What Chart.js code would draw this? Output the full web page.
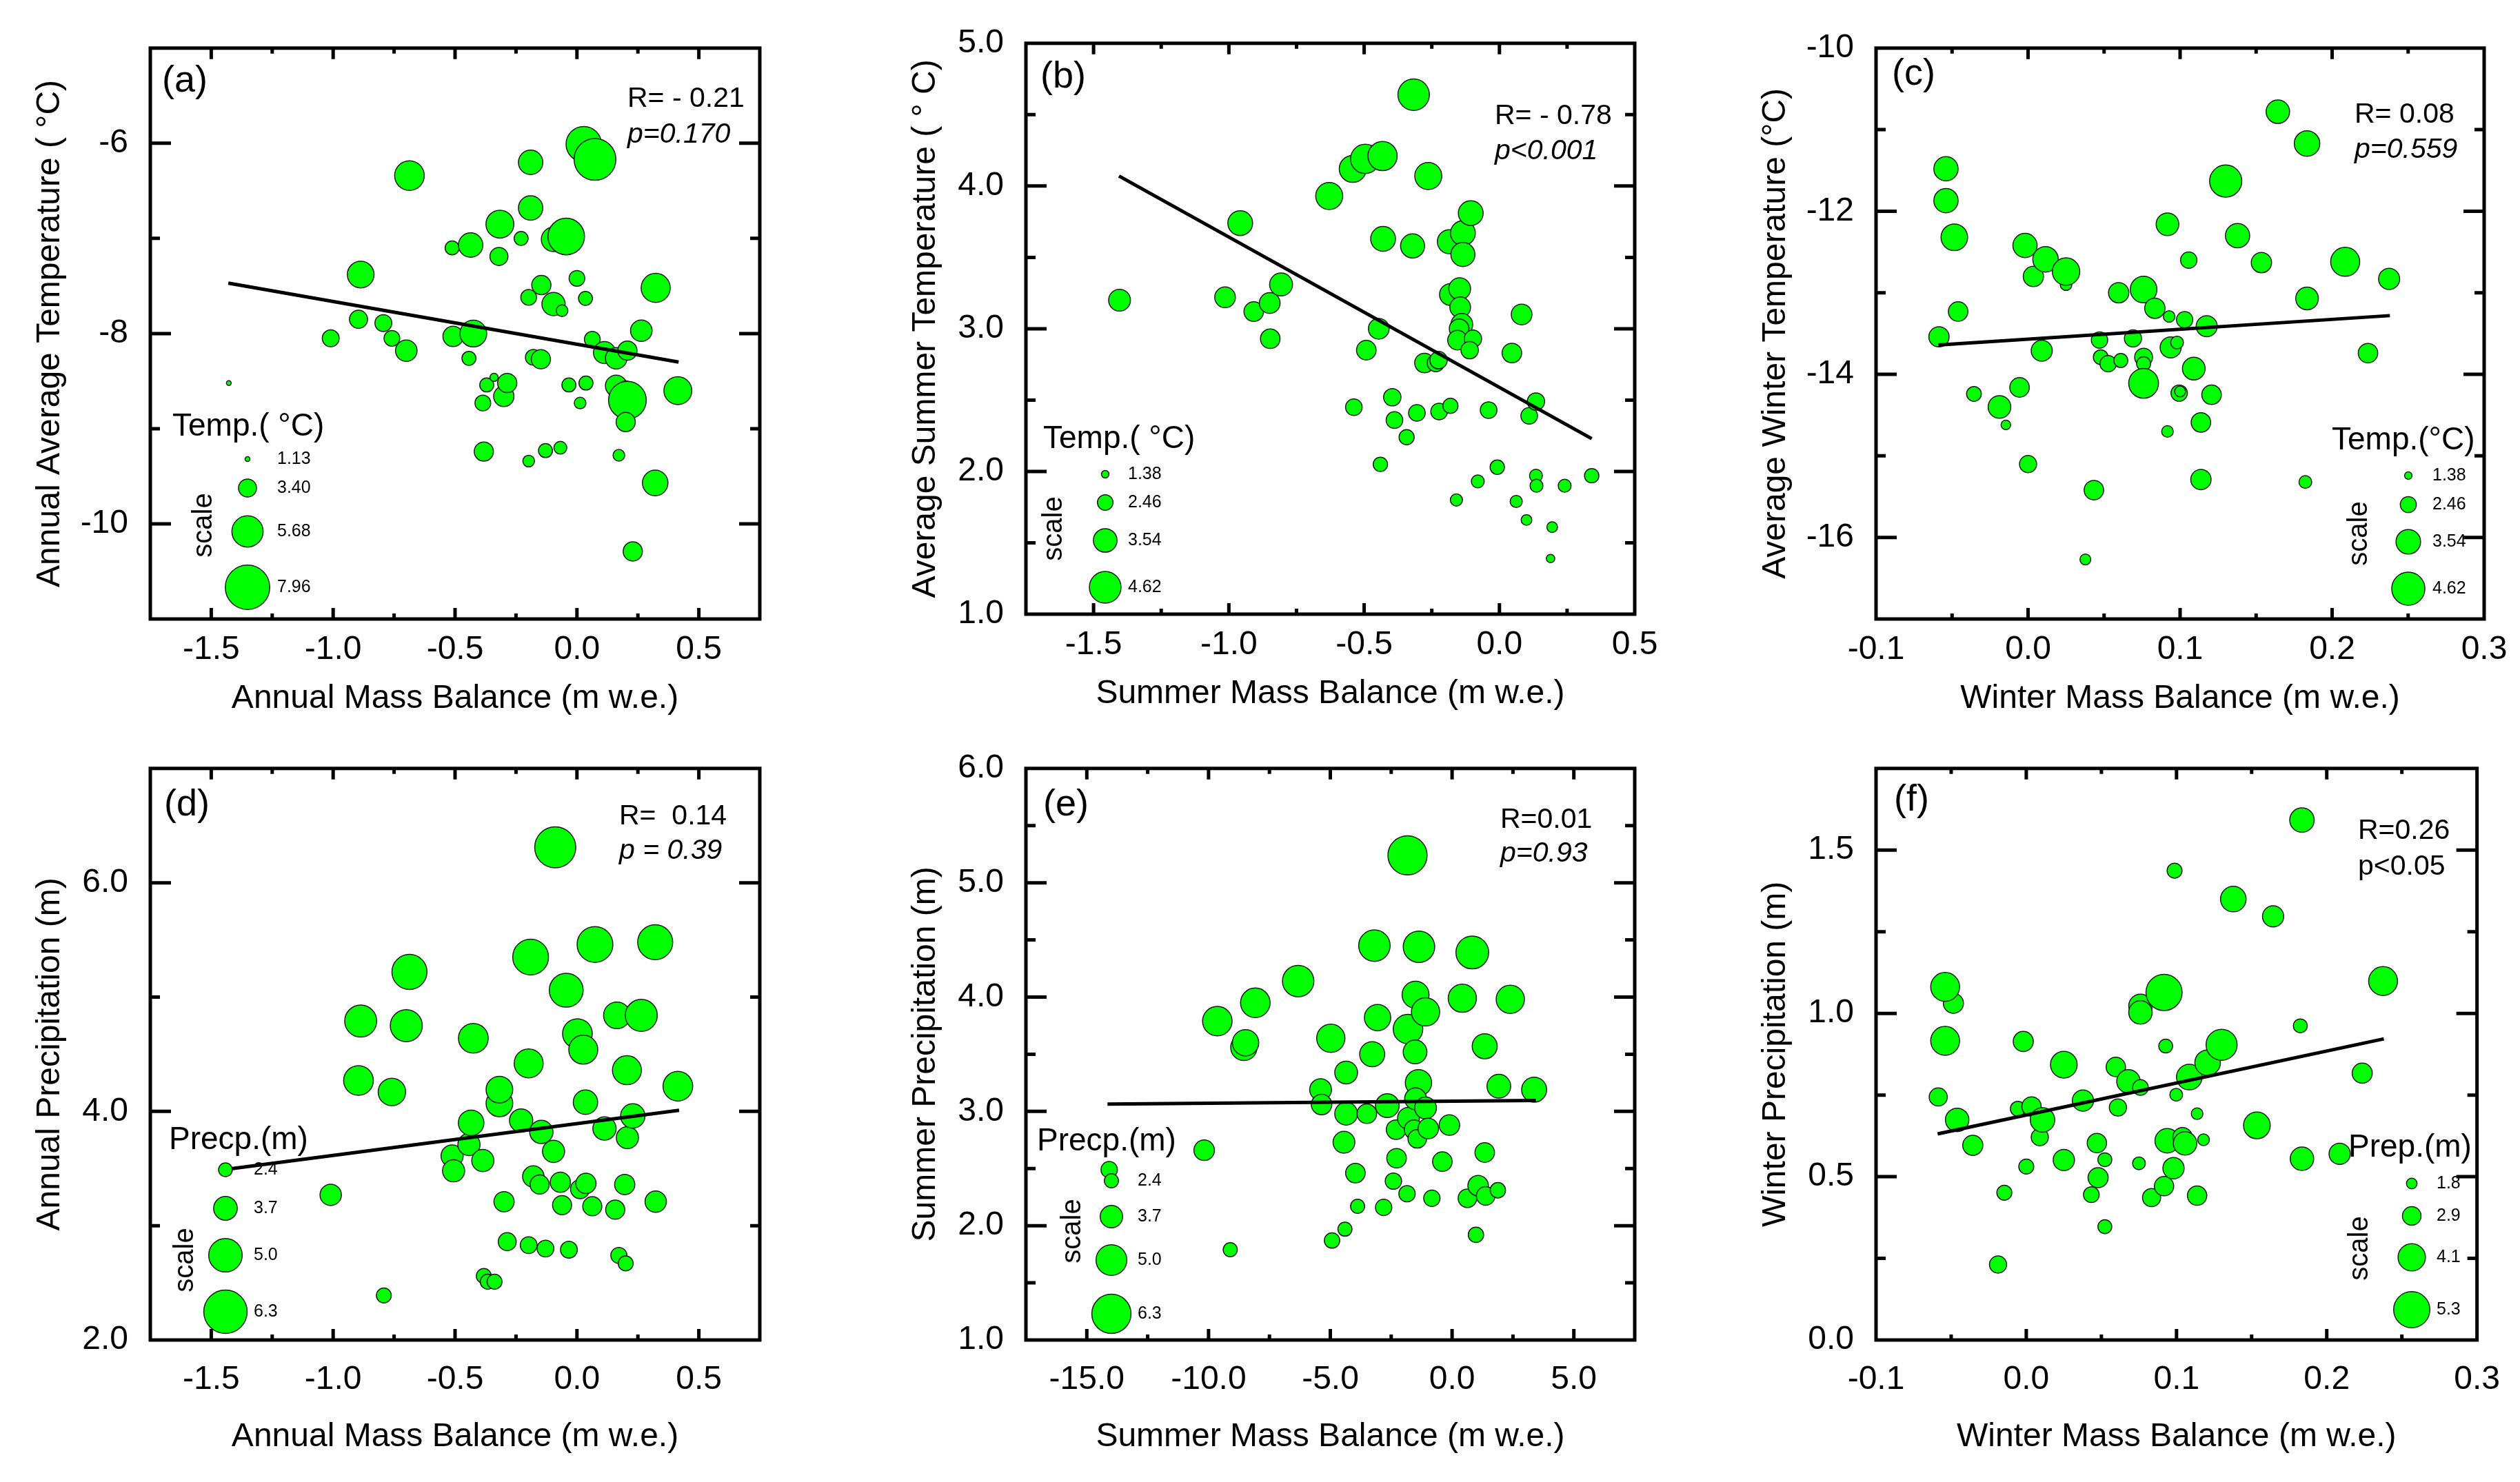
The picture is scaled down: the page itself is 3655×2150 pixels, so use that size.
<!DOCTYPE html>
<html>
<head>
<meta charset="utf-8">
<script src="https://cdn.jsdelivr.net/npm/chart.js@4.4.1/dist/chart.umd.min.js"></script>
<style>
  html, body { margin: 0; padding: 0; background: #ffffff; }
  body { width: 3655px; height: 2150px; position: relative; overflow: hidden; }
  canvas { position: absolute; }
</style>
</head>
<body>
<script>
// ===================== DATA =====================
// (a) Annual mass balance vs annual average temperature; size = Temp.(°C) scale
const aX = [-1.428, -1.01, -0.887, -0.896, -0.794, -0.759, -0.70, -0.687, -0.512, -0.508, -0.436, -0.425, -0.443, -0.382, -0.386, -0.37, -0.34, -0.316, -0.32, -0.30, -0.286, -0.229, -0.19, -0.19, -0.198, -0.179, -0.148, -0.198, -0.146, -0.129, -0.096, -0.096, -0.044, -0.061, -0.068, -0.033, 0.0, 0.013, 0.028, 0.074, 0.035, 0.037, 0.063, 0.113, 0.161, 0.207, 0.161, 0.20, 0.207, 0.20, 0.172, 0.229, 0.264, 0.323, 0.321, 0.414];
const aY = [-8.52, -8.05, -7.38, -7.85, -7.89, -8.05, -8.18, -6.34, -7.10, -8.03, -7.07, -8.0, -8.26, -9.24, -8.73, -8.54, -8.46, -6.85, -7.19, -8.66, -8.52, -7.0, -6.68, -6.2, -7.62, -8.25, -8.27, -9.34, -7.49, -9.23, -7.69, -7.01, -6.98, -7.76, -9.20, -8.54, -7.42, -8.73, -6.01, -6.17, -7.63, -8.52, -8.06, -8.20, -8.26, -8.18, -8.55, -8.58, -8.70, -8.93, -9.28, -10.29, -7.97, -7.52, -9.57, -8.60];
const aS = [1.1, 3.2, 4.9, 3.4, 3.2, 3.0, 4.0, 5.4, 2.7, 3.8, 4.5, 4.9, 2.7, 3.6, 3.0, 2.7, 1.7, 5.1, 3.4, 3.8, 3.6, 2.7, 4.5, 4.5, 3.0, 3.0, 3.6, 2.3, 3.6, 2.7, 4.3, 4.5, 6.6, 2.3, 2.5, 2.7, 3.0, 2.3, 6.4, 7.5, 2.7, 2.7, 3.0, 4.1, 4.0, 3.6, 4.0, 3.0, 6.8, 3.6, 2.3, 3.6, 4.0, 5.3, 4.7, 5.1];
const aFitX = [-1.43, 0.417];
const aFitY = [-7.47, -8.30];

// (b) Summer mass balance vs average summer temperature
const bX = [-1.404, -1.014, -0.958, -0.908, -0.849, -0.847, -0.807, -0.629, -0.542, -0.496, -0.432, -0.43, -0.321, -0.317, -0.263, -0.446, -0.492, -0.538, -0.44, -0.396, -0.388, -0.343, -0.305, -0.277, -0.235, -0.225, -0.223, -0.181, -0.185, -0.135, -0.135, -0.106, -0.181, -0.147, -0.145, -0.139, -0.149, -0.155, -0.098, -0.11, -0.159, -0.08, -0.04, -0.008, 0.046, 0.062, 0.082, 0.10, 0.11, 0.135, 0.135, 0.137, 0.195, 0.189, 0.241, 0.341];
const bY = [3.20, 3.22, 3.74, 3.12, 3.18, 2.93, 3.31, 3.93, 4.12, 4.19, 4.21, 3.63, 3.58, 4.64, 4.07, 3.0, 2.85, 2.45, 2.05, 2.52, 2.36, 2.24, 2.41, 2.76, 2.76, 2.78, 2.42, 2.46, 3.61, 3.67, 3.52, 3.81, 3.24, 3.28, 3.15, 3.03, 3.0, 2.92, 2.93, 2.85, 1.80, 1.93, 2.43, 2.03, 2.83, 1.79, 3.10, 1.66, 2.39, 2.49, 1.97, 1.90, 1.61, 1.39, 1.90, 1.97];
const bS = [3.3, 3.15, 3.7, 3.0, 3.15, 3.0, 3.45, 4.0, 4.0, 4.3, 4.3, 3.7, 3.6, 4.6, 4.0, 3.15, 3.0, 2.6, 2.3, 2.7, 2.6, 2.4, 2.6, 3.0, 2.7, 2.7, 2.6, 2.4, 3.6, 3.7, 3.6, 3.7, 3.3, 3.3, 3.15, 3.3, 3.0, 3.0, 2.7, 2.7, 2.0, 2.1, 2.6, 2.3, 3.0, 2.0, 3.15, 1.8, 2.6, 2.7, 2.1, 2.1, 1.8, 1.5, 2.1, 2.3];
const bFitX = [-1.406, 0.341];
const bFitY = [4.07, 2.23];

// (c) Winter mass balance vs average winter temperature
const cX = [-0.0586, -0.054, -0.054, -0.0485, -0.046, -0.0356, -0.0188, -0.0146, -0.0056, -0.002, 0.0035, 0.0, 0.0115, 0.009, 0.025, 0.025, 0.0377, 0.0433, 0.047, 0.0478, 0.0527, 0.0596, 0.061, 0.069, 0.076, 0.076, 0.076, 0.076, 0.0834, 0.0917, 0.0928, 0.0917, 0.0938, 0.098, 0.0994, 0.1, 0.103, 0.1057, 0.109, 0.1137, 0.1137, 0.1175, 0.1207, 0.130, 0.1378, 0.1535, 0.1643, 0.1835, 0.1835, 0.1824, 0.2086, 0.2236, 0.2375];
const cY = [-13.54, -11.48, -11.87, -12.32, -13.23, -14.24, -14.40, -14.62, -14.16, -12.42, -12.80, -15.10, -12.59, -13.71, -12.90, -12.74, -16.27, -15.42, -13.58, -13.79, -13.87, -13.0, -13.83, -13.56, -12.96, -13.79, -13.87, -14.11, -13.19, -12.16, -13.29, -14.70, -13.67, -13.61, -14.23, -14.21, -13.33, -12.60, -13.93, -14.59, -15.29, -13.41, -14.25, -11.63, -12.30, -12.63, -10.78, -11.17, -13.07, -15.32, -12.62, -13.74, -12.83];
const cS = [3.0, 3.5, 3.5, 3.8, 2.9, 2.3, 3.3, 1.65, 2.9, 3.5, 3.0, 2.6, 3.66, 3.1, 1.9, 3.9, 1.8, 2.9, 2.5, 2.3, 2.5, 3.0, 2.2, 2.6, 3.8, 2.7, 2.2, 4.2, 3.0, 3.3, 1.9, 1.9, 3.1, 2.05, 2.5, 1.8, 2.5, 2.5, 3.3, 2.9, 3.0, 3.1, 2.9, 4.5, 3.5, 3.0, 3.4, 3.66, 3.3, 2.05, 4.1, 2.9, 3.1];
const cFitX = [-0.059, 0.238];
const cFitY = [-13.64, -13.28];

// (d) Annual mass balance vs annual precipitation; size = Precp.(m) scale
const dX = [-1.01, -0.896, -0.887, -0.792, -0.759, -0.70, -0.687, -0.512, -0.506, -0.443, -0.434, -0.425, -0.386, -0.382, -0.366, -0.338, -0.318, -0.318, -0.299, -0.286, -0.229, -0.198, -0.19, -0.198, -0.179, -0.153, -0.146, -0.129, -0.096, -0.089, -0.068, -0.061, -0.044, -0.033, 0.002, 0.013, 0.026, 0.035, 0.037, 0.063, 0.074, 0.113, 0.157, 0.164, 0.172, 0.20, 0.196, 0.205, 0.207, 0.229, 0.264, 0.321, 0.323, 0.414];
const dY = [3.27, 4.27, 4.79, 2.39, 4.17, 4.75, 5.22, 3.61, 3.48, 3.71, 3.90, 4.64, 3.57, 2.56, 2.51, 2.51, 4.07, 4.19, 3.21, 2.86, 3.92, 4.42, 5.35, 2.83, 3.43, 3.36, 3.82, 2.80, 3.65, 6.31, 3.38, 3.18, 5.06, 2.79, 4.68, 3.32, 4.54, 4.08, 3.37, 3.17, 5.46, 3.85, 3.14, 4.84, 2.74, 2.67, 3.36, 4.36, 3.77, 3.96, 4.84, 5.48, 3.21, 4.22];
const dS = [3.4, 4.5, 4.8, 2.55, 4.2, 4.8, 5.2, 3.5, 3.5, 3.5, 3.95, 4.5, 3.5, 2.55, 2.55, 2.55, 4.1, 4.1, 3.25, 2.95, 3.65, 4.4, 5.3, 2.8, 3.4, 3.1, 3.65, 2.8, 3.5, 6.0, 3.25, 3.1, 5.05, 2.8, 4.5, 3.1, 4.4, 3.8, 3.25, 3.1, 5.3, 3.65, 3.1, 4.1, 2.7, 2.55, 3.25, 4.4, 3.5, 3.8, 4.8, 5.2, 3.4, 4.5];
const dFitX = [-1.413, 0.419];
const dFitY = [3.50, 4.01];

// (e) Summer mass balance vs summer precipitation
const eX = [-14.08, -10.18, -9.64, -9.11, -8.55, -8.48, -8.08, -6.32, -5.40, -5.36, -4.98, -4.93, -4.44, -4.35, -4.35, -4.40, -3.97, -3.88, -3.50, -3.28, -3.19, -3.06, -2.81, -2.66, -2.41, -2.30, -2.28, -1.85, -1.83, -1.81, -1.79, -1.56, -1.50, -1.52, -1.43, -1.38, -1.36, -1.50, -1.09, -1.09, -0.98, -0.83, -0.40, -0.11, 0.42, 0.63, 0.83, 0.98, 1.07, 1.34, 1.34, 1.38, 1.88, 1.92, 2.39, 3.37];
const eY = [2.49, 2.66, 3.79, 1.79, 3.56, 3.60, 3.95, 4.14, 3.19, 3.06, 3.64, 1.87, 2.73, 3.34, 2.98, 1.97, 2.46, 2.17, 2.98, 3.50, 4.45, 3.82, 2.16, 3.05, 2.39, 2.84, 2.59, 2.28, 5.24, 3.72, 2.94, 2.84, 4.02, 3.52, 2.76, 3.25, 4.44, 3.11, 3.87, 3.03, 2.85, 2.24, 2.56, 2.88, 3.99, 2.24, 4.39, 1.92, 2.35, 3.57, 2.64, 2.26, 2.31, 3.22, 3.98, 3.19];
const eS = [2.75, 3.4, 4.8, 2.4, 4.3, 4.3, 4.8, 5.1, 3.6, 3.4, 4.6, 2.6, 3.6, 3.75, 3.75, 2.4, 3.25, 2.4, 3.25, 4.1, 5.1, 4.3, 2.75, 3.9, 2.75, 3.25, 3.25, 2.75, 6.3, 4.8, 3.6, 3.25, 4.4, 3.9, 3.1, 4.3, 5.1, 3.6, 4.6, 3.6, 3.4, 2.75, 3.25, 3.4, 4.6, 3.1, 5.3, 2.6, 3.4, 4.1, 3.25, 3.1, 2.6, 3.9, 4.6, 4.1];
const eFitX = [-14.15, 3.44];
const eFitY = [3.063, 3.096];

// (f) Winter mass balance vs winter precipitation; size = Prep.(m) scale
const fX = [-0.0586, -0.0485, -0.054, -0.054, -0.046, -0.0356, -0.0188, -0.0146, -0.0056, -0.002, 0.0, 0.0035, 0.009, 0.0108, 0.025, 0.025, 0.0377, 0.0433, 0.047, 0.0478, 0.0523, 0.0523, 0.0596, 0.061, 0.068, 0.076, 0.076, 0.076, 0.075, 0.0834, 0.0917, 0.0928, 0.0917, 0.0938, 0.0987, 0.098, 0.0998, 0.104, 0.1057, 0.1085, 0.1137, 0.1137, 0.118, 0.1207, 0.130, 0.1378, 0.1535, 0.1643, 0.1835, 0.1824, 0.1835, 0.2086, 0.2236, 0.2375];
const fY = [0.744, 1.031, 1.081, 0.916, 0.674, 0.596, 0.231, 0.451, 0.708, 0.914, 0.531, 0.715, 0.621, 0.674, 0.843, 0.551, 0.733, 0.445, 0.603, 0.497, 0.552, 0.347, 0.836, 0.712, 0.792, 1.023, 1.003, 0.773, 0.541, 0.436, 1.064, 0.90, 0.471, 0.610, 1.437, 0.526, 0.751, 0.621, 0.602, 0.805, 0.693, 0.442, 0.613, 0.849, 0.904, 1.350, 0.657, 1.297, 1.592, 0.962, 0.555, 0.570, 0.817, 1.099];
const fS = [2.83, 3.1, 4.3, 4.3, 3.56, 3.1, 2.7, 2.4, 2.4, 3.1, 2.4, 3.0, 2.7, 3.7, 4.0, 3.26, 3.26, 2.5, 3.0, 3.1, 2.25, 2.25, 3.0, 2.7, 3.56, 3.56, 3.56, 2.5, 2.1, 2.83, 5.3, 2.25, 3.0, 3.7, 2.4, 3.26, 2.1, 3.0, 3.56, 3.85, 1.95, 3.0, 1.95, 3.85, 4.6, 3.85, 4.0, 3.26, 3.7, 2.25, 3.56, 3.26, 3.1, 4.3];
const fFitX = [-0.059, 0.238];
const fFitY = [0.631, 0.922];

// Tick labels
const annualXLabels = ["-1.5", "-1.0", "-0.5", "0.0", "0.5"];
const summerXLabels = ["-1.5", "-1.0", "-0.5", "0.0", "0.5"];
const winterXLabels = ["-0.1", "0.0", "0.1", "0.2", "0.3"];
const summerPXLabels = ["-15.0", "-10.0", "-5.0", "0.0", "5.0"];
const aYLabels = ["-10", "-8", "-6"];
const bYLabels = ["1.0", "2.0", "3.0", "4.0", "5.0"];
const cYLabels = ["-16", "-14", "-12", "-10"];
const dYLabels = ["2.0", "4.0", "6.0"];
const eYLabels = ["1.0", "2.0", "3.0", "4.0", "5.0", "6.0"];
const fYLabels = ["0.0", "0.5", "1.0", "1.5"];

// Size-legend labels
const aLegend = ["1.13", "3.40", "5.68", "7.96"];
const bLegend = ["1.38", "2.46", "3.54", "4.62"];
const cLegend = ["1.38", "2.46", "3.54", "4.62"];
const dLegend = ["2.4", "3.7", "5.0", "6.3"];
const eLegend = ["2.4", "3.7", "5.0", "6.3"];
const fLegend = ["1.8", "2.9", "4.1", "5.3"];

// ===================== PANEL DEFINITIONS =====================
const PANELS = [
  { key: 'a', x: aX, y: aY, s: aS, fitX: aFitX, fitY: aFitY,
    xLabels: annualXLabels, yLabels: aYLabels, legend: aLegend,
    xr: [-1.75, 0.75, 0.5, 0.25], yr: [-11, -5, 2, 1],
    xTitle: 'Annual Mass Balance (m w.e.)', yTitle: 'Annual Average Temperature ( °C)',
    tag: '(a)', rText: 'R= - 0.21', pText: 'p=0.170', pItalic: true, legTitle: 'Temp.( °C)' },
  { key: 'b', x: bX, y: bY, s: bS, fitX: bFitX, fitY: bFitY,
    xLabels: summerXLabels, yLabels: bYLabels, legend: bLegend,
    xr: [-1.75, 0.5, 0.5, 0.25], yr: [1, 5, 1, 0.5],
    xTitle: 'Summer Mass Balance (m w.e.)', yTitle: 'Average Summer Temperature ( ° C)',
    tag: '(b)', rText: 'R= - 0.78', pText: 'p<0.001', pItalic: true, legTitle: 'Temp.( °C)' },
  { key: 'c', x: cX, y: cY, s: cS, fitX: cFitX, fitY: cFitY,
    xLabels: winterXLabels, yLabels: cYLabels, legend: cLegend,
    xr: [-0.1, 0.3, 0.1, 0.05], yr: [-17, -10, 2, 1],
    xTitle: 'Winter Mass Balance (m w.e.)', yTitle: 'Average Winter Temperature (°C)',
    tag: '(c)', rText: 'R= 0.08', pText: 'p=0.559', pItalic: true, legTitle: 'Temp.(°C)' },
  { key: 'd', x: dX, y: dY, s: dS, fitX: dFitX, fitY: dFitY,
    xLabels: annualXLabels, yLabels: dYLabels, legend: dLegend,
    xr: [-1.75, 0.75, 0.5, 0.25], yr: [2, 7, 2, 1],
    xTitle: 'Annual Mass Balance (m w.e.)', yTitle: 'Annual Precipitation (m)',
    tag: '(d)', rText: 'R=  0.14', pText: 'p = 0.39', pItalic: true, legTitle: 'Precp.(m)' },
  { key: 'e', x: eX, y: eY, s: eS, fitX: eFitX, fitY: eFitY,
    xLabels: summerPXLabels, yLabels: eYLabels, legend: eLegend,
    xr: [-17.5, 7.5, 5, 2.5], yr: [1, 6, 1, 0.5],
    xTitle: 'Summer Mass Balance (m w.e.)', yTitle: 'Summer Precipitation (m)',
    tag: '(e)', rText: 'R=0.01', pText: 'p=0.93', pItalic: true, legTitle: 'Precp.(m)' },
  { key: 'f', x: fX, y: fY, s: fS, fitX: fFitX, fitY: fFitY,
    xLabels: winterXLabels, yLabels: fYLabels, legend: fLegend,
    xr: [-0.1, 0.3, 0.1, 0.05], yr: [0, 1.75, 0.5, 0.25],
    xTitle: 'Winter Mass Balance (m w.e.)', yTitle: 'Winter Precipitation (m)',
    tag: '(f)', rText: 'R=0.26', pText: 'p<0.05', pItalic: false, legTitle: 'Prep.(m)' }
];

// ===================== LAYOUT (page pixels) =====================
const LAYOUT = {
  a: { rect: [218, 64, 1102, 898], row: 1, tag: [235, 118], r: [910, 144], p: [910, 196],
       leg: { title: [250, 619], cx: 359, rows: [666, 708, 771, 852], vx: 402, scale: [296, 762] }, size: [4.2, -1.2] },
  b: { rect: [1488, 57, 2371, 891], row: 1, tag: [1509, 112], r: [2168, 169], p: [2168, 220],
       leg: { title: [1513, 637], cx: 1603, rows: [688, 729, 784, 852], vx: 1636, scale: [1529, 767] }, size: [5.4, -2.0] },
  c: { rect: [2721, 64, 3603, 898], row: 1, tag: [2744, 108], r: [3415, 167], p: [3415, 218],
       leg: { title: [3382, 639], cx: 3493, rows: [690, 732, 786, 854], vx: 3528, scale: [3422, 774] }, size: [5.74, -2.5] },
  d: { rect: [218, 1109, 1102, 1944], row: 2, tag: [238, 1168], r: [898, 1185], p: [898, 1235],
       leg: { title: [245, 1654], cx: 327, rows: [1697, 1753, 1821, 1903], vx: 368, scale: [269, 1828] }, size: [5.5, -3.2] },
  e: { rect: [1488, 1109, 2371, 1944], row: 2, tag: [1513, 1168], r: [2176, 1190], p: [2176, 1239],
       leg: { title: [1504, 1656], cx: 1612, rows: [1713, 1765, 1828, 1906], vx: 1650, scale: [1556, 1786] }, size: [4.67, -1.0] },
  f: { rect: [2721, 1109, 3603, 1944], row: 2, tag: [2747, 1161], r: [3420, 1206], p: [3420, 1258],
       leg: { title: [3406, 1665], cx: 3498, rows: [1717, 1764, 1824, 1900], vx: 3534, scale: [3423, 1811] }, size: [5.31, -1.9] }
};

const FONT = '"Liberation Sans", Arial, Helvetica, sans-serif';
const GREEN = '#00ff00';
const EDGE = '#1a1a1a';
Chart.defaults.font.family = FONT;
Chart.defaults.color = '#000';

const PAD_L = 218, PAD_T = 55, PAD_R = 52, PAD_B = 190;

function drawDecor(chart, P, L, ox, oy, rad) {
  const ctx = chart.ctx, ca = chart.chartArea;
  const xs = chart.scales.x, ys = chart.scales.y;
  ctx.save();

  // size legend
  const lg = L.leg;
  P.legend.forEach((lab, i) => {
    const cy = lg.rows[i] - oy;
    ctx.beginPath();
    ctx.arc(lg.cx - ox, cy, rad(Number(lab)), 0, Math.PI * 2);
    ctx.fillStyle = GREEN; ctx.fill();
    ctx.lineWidth = 1.5; ctx.strokeStyle = EDGE; ctx.stroke();
    ctx.fillStyle = '#000';
    ctx.font = `25px ${FONT}`;
    ctx.textAlign = 'left'; ctx.textBaseline = 'middle';
    ctx.fillText(lab, lg.vx - ox, cy);
  });
  ctx.fillStyle = '#000';
  ctx.font = `46px ${FONT}`;
  ctx.textAlign = 'left'; ctx.textBaseline = 'middle';
  ctx.fillText(P.legTitle, lg.title[0] - ox, lg.title[1] - oy);
  ctx.save();
  ctx.translate(lg.scale[0] - ox, lg.scale[1] - oy);
  ctx.rotate(-Math.PI / 2);
  ctx.font = `40px ${FONT}`;
  ctx.textAlign = 'center'; ctx.textBaseline = 'middle';
  ctx.fillText('scale', 0, 0);
  ctx.restore();

  // panel tag and statistics
  ctx.font = `54px ${FONT}`;
  ctx.fillText(P.tag, L.tag[0] - ox, L.tag[1] - oy);
  ctx.font = `41px ${FONT}`;
  ctx.fillText(P.rText, L.r[0] - ox, L.r[1] - oy);
  ctx.font = `${P.pItalic ? 'italic ' : ''}41px ${FONT}`;
  ctx.fillText(P.pText, L.p[0] - ox, L.p[1] - oy);

  // frame
  ctx.strokeStyle = '#000';
  ctx.lineWidth = 5;
  ctx.strokeRect(ca.left, ca.top, ca.right - ca.left, ca.bottom - ca.top);

  // inward ticks on all four sides
  const eps = 1e-6;
  const each = (min, max, major, minor, fn) => {
    const k0 = Math.ceil(min / minor - eps), k1 = Math.floor(max / minor + eps);
    for (let k = k0; k <= k1; k++) {
      const v = k * minor;
      if (Math.abs(v - min) < minor * 1e-3 || Math.abs(v - max) < minor * 1e-3) continue;
      const isMajor = Math.abs(v / major - Math.round(v / major)) < 1e-4;
      fn(v, isMajor);
    }
  };
  ctx.beginPath();
  each(P.xr[0], P.xr[1], P.xr[2], P.xr[3], (v, m) => {
    const px = xs.getPixelForValue(v);
    const len = m ? 16 : 8;
    ctx.moveTo(px, ca.bottom); ctx.lineTo(px, ca.bottom - len);
    ctx.moveTo(px, ca.top); ctx.lineTo(px, ca.top + len);
  });
  each(P.yr[0], P.yr[1], P.yr[2], P.yr[3], (v, m) => {
    const py = ys.getPixelForValue(v);
    const len = m ? 30 : 14;
    ctx.moveTo(ca.left, py); ctx.lineTo(ca.left + len, py);
    ctx.moveTo(ca.right, py); ctx.lineTo(ca.right - len, py);
  });
  ctx.lineWidth = 5;
  ctx.stroke();
  ctx.restore();
}

function makePanel(P) {
  const L = LAYOUT[P.key];
  const [l, t, r, b] = L.rect;
  const W = (r - l) + PAD_L + PAD_R, H = (b - t) + PAD_T + PAD_B;
  const ox = l - PAD_L, oy = t - PAD_T;
  const cv = document.createElement('canvas');
  cv.width = W; cv.height = H;
  cv.style.left = ox + 'px'; cv.style.top = oy + 'px';
  cv.style.width = W + 'px'; cv.style.height = H + 'px';
  document.body.appendChild(cv);

  const [k, c0] = L.size;
  const rad = v => Math.max(2, k * v + c0);
  const pts = P.x.map((xv, i) => ({ x: xv, y: P.y[i], r: rad(P.s[i]) }));
  const fit = P.fitX.map((xv, i) => ({ x: xv, y: P.fitY[i] }));
  const xTicks = P.xLabels.map(Number), yTicks = P.yLabels.map(Number);
  const row2 = L.row === 2;
  const tickFont = { size: 48, family: FONT };

  new Chart(cv, {
    type: 'bubble',
    data: {
      datasets: [
        { type: 'line', data: fit, borderColor: '#000', borderWidth: 5, pointRadius: 0,
          fill: false, tension: 0, order: 0 },
        { type: 'bubble', data: pts, backgroundColor: GREEN, borderColor: EDGE,
          borderWidth: 1.5, order: 1 }
      ]
    },
    options: {
      responsive: false, animation: false, events: [], devicePixelRatio: 1,
      layout: { padding: { top: PAD_T, right: PAD_R, left: 0, bottom: 0 }, autoPadding: false },
      plugins: { legend: { display: false }, tooltip: { enabled: false } },
      scales: {
        x: {
          type: 'linear', position: 'bottom', min: P.xr[0], max: P.xr[1],
          afterBuildTicks: s => { s.ticks = xTicks.map(v => ({ value: v })); },
          afterFit: s => { s.height = PAD_B; },
          grid: { display: false, drawTicks: false }, border: { display: false },
          ticks: { font: tickFont, color: '#000', padding: row2 ? 29 : 16, maxRotation: 0,
                   autoSkip: false, callback: (v, i) => P.xLabels[i] },
          title: { display: true, text: P.xTitle, color: '#000', font: { size: 48, family: FONT },
                   padding: { top: 0, bottom: row2 ? 20 : 45 } }
        },
        y: {
          type: 'linear', position: 'left', min: P.yr[0], max: P.yr[1],
          afterBuildTicks: s => { s.ticks = yTicks.map(v => ({ value: v })); },
          afterFit: s => { s.width = PAD_L; },
          grid: { display: false, drawTicks: false }, border: { display: false },
          ticks: { font: tickFont, color: '#000', padding: 32, autoSkip: false,
                   callback: (v, i) => P.yLabels[i] },
          title: { display: true, text: P.yTitle, color: '#000', font: { size: 48, family: FONT },
                   padding: { top: 44, bottom: 0 } }
        }
      }
    },
    plugins: [{ id: 'decor' + P.key, afterDatasetsDraw: (chart) => drawDecor(chart, P, L, ox, oy, rad) }]
  });
}

PANELS.forEach(makePanel);
</script>
</body>
</html>
